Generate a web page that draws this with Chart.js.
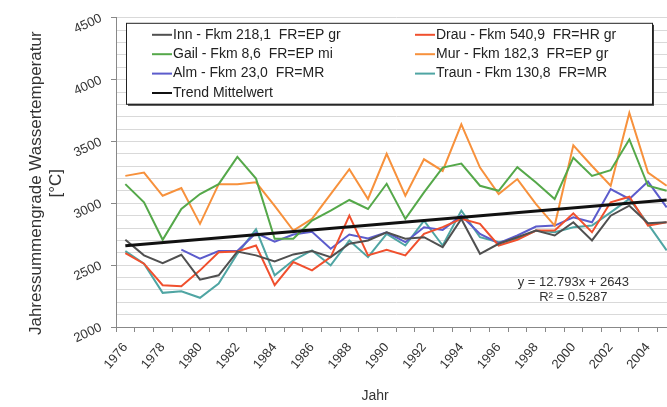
<!DOCTYPE html>
<html>
<head>
<meta charset="utf-8">
<script src="https://cdn.jsdelivr.net/npm/chart.js@4.4.1/dist/chart.umd.min.js"></script>
<style>
  html, body { margin: 0; padding: 0; background: #fff; overflow: hidden; }
  #wrap { width: 667px; height: 407px; overflow: hidden; }
</style>
</head>
<body>
<div id="wrap"><canvas id="chart" width="690" height="407"></canvas></div>
<script>
// Years on the x axis (1976 - 2005)
const years = [1976, 1977, 1978, 1979, 1980, 1981, 1982, 1983, 1984, 1985,
  1986, 1987, 1988, 1989, 1990, 1991, 1992, 1993, 1994, 1995,
  1996, 1997, 1998, 1999, 2000, 2001, 2002, 2003, 2004, 2005];

// Jahressummengrade per river station
const inn = [2705, 2579, 2517, 2584, 2383, 2418, 2610, 2579, 2530, 2587,
  2614, 2565, 2673, 2700, 2766, 2713, 2726, 2646, 2874, 2592,
  2673, 2726, 2780, 2740, 2847, 2700, 2900, 2981, 2839, 2847];
const drau = [2598, 2512, 2338, 2330, 2458, 2605, 2610, 2659, 2338, 2525,
  2458, 2565, 2900, 2579, 2625, 2579, 2753, 2807, 2874, 2834,
  2659, 2705, 2780, 2780, 2919, 2766, 3008, 3053, 2820, 2847];
const gail = [3155, 3008, 2705, 2954, 3075, 3155, 3375, 3200, 2713, 2713,
  2860, 2941, 3027, 2954, 3158, 2874, 3088, 3289, 3321, 3142,
  3101, 3292, 3168, 3035, 3369, 3222, 3268, 3517, 3142, 3101];
const mur = [3222, 3249, 3061, 3123, 2834, 3155, 3155, 3170, 2980, 2780,
  2874, 3075, 3276, 3035, 3400, 3061, 3356, 3262, 3638, 3289,
  3075, 3196, 2994, 2820, 3469, 3302, 3142, 3731, 3249, 3142];
const alm = [null, null, null, 2625, 2552, 2614, 2614, 2760, 2690, 2748,
  2770, 2633, 2748, 2715, 2766, 2686, 2807, 2785, 2900, 2753,
  2678, 2740, 2812, 2820, 2887, 2847, 3115, 3035, 3176, 2967];
const traun = [2614, 2512, 2276, 2289, 2236, 2351, 2592, 2790, 2418, 2539,
  2619, 2498, 2700, 2565, 2753, 2659, 2860, 2659, 2941, 2726,
  2686, 2713, 2780, 2766, 2807, 2820, 2927, 3035, 2834, 2619];
// trend line endpoints (y = 12.793x + 2643)
const trend = [2656, null, null, null, null, null, null, null, null, null,
  null, null, null, null, null, null, null, null, null, null,
  null, null, null, null, null, null, null, null, null, 3027];

const yTicks = [2000, 2500, 3000, 3500, 4000, 4500];
const equation = ['y = 12.793x + 2643', 'R² = 0.5287'];

Chart.defaults.font.family = '"Liberation Sans", Arial, sans-serif';
Chart.defaults.color = '#333';

function series(label, data, color, width) {
  return {
    label: label,
    data: data,
    borderColor: color,
    backgroundColor: color,
    borderWidth: width || 2,
    pointRadius: 0,
    tension: 0,
    fill: false
  };
}

// legend in a framed box, two columns, inside the plot
const boxLegend = {
  id: 'boxLegend',
  afterDatasetsDraw(chart) {
    const { ctx, chartArea } = chart;
    const x0 = chartArea.left + 10, y0 = chartArea.top + 5, w = 526, h = 81;
    ctx.save();
    ctx.fillStyle = '#3a3a3a';
    ctx.fillRect(x0 + 2, y0 + 2, w, h);
    ctx.fillStyle = '#fff';
    ctx.fillRect(x0, y0, w, h);
    ctx.strokeStyle = '#222';
    ctx.lineWidth = 1;
    ctx.strokeRect(x0 + 0.5, y0 + 0.5, w, h);
    ctx.font = '14px "Liberation Sans", Arial, sans-serif';
    ctx.textBaseline = 'middle';
    ctx.textAlign = 'left';
    chart.data.datasets.forEach((ds, i) => {
      const col = i % 2, row = Math.floor(i / 2);
      const lx = x0 + (col ? 289 : 26);
      const ly = y0 + 12 + row * 19.4;
      ctx.strokeStyle = ds.borderColor;
      ctx.lineWidth = 2;
      ctx.beginPath();
      ctx.moveTo(lx, ly);
      ctx.lineTo(lx + 20, ly);
      ctx.stroke();
      ctx.fillStyle = '#222';
      ctx.fillText(ds.label, lx + 21, ly);
    });
    ctx.restore();
  }
};

// regression equation text
const trendLabel = {
  id: 'trendLabel',
  afterDatasetsDraw(chart) {
    const { ctx, scales } = chart;
    const cx = scales.x.getPixelForValue(years.indexOf(2000));
    ctx.save();
    ctx.font = '13px "Liberation Sans", Arial, sans-serif';
    ctx.fillStyle = '#333';
    ctx.textAlign = 'center';
    ctx.textBaseline = 'middle';
    ctx.fillText(equation[0], cx, scales.y.getPixelForValue(2362));
    ctx.fillText(equation[1], cx, scales.y.getPixelForValue(2242));
    ctx.restore();
  }
};

const trendSet = series('Trend Mittelwert', trend, '#111', 3);
trendSet.spanGaps = true;
trendSet.order = -1;

new Chart(document.getElementById('chart'), {
  type: 'line',
  data: {
    labels: years.map(String),
    datasets: [
      series('Inn - Fkm 218,1  FR=EP gr', inn, '#505050'),
      series('Drau - Fkm 540,9  FR=HR gr', drau, '#f0502e'),
      series('Gail - Fkm 8,6  FR=EP mi', gail, '#55a84a'),
      series('Mur - Fkm 182,3  FR=EP gr', mur, '#f7913c'),
      series('Alm - Fkm 23,0  FR=MR', alm, '#5c5ccc'),
      series('Traun - Fkm 130,8  FR=MR', traun, '#4fa5a3'),
      trendSet
    ]
  },
  options: {
    responsive: false,
    animation: false,
    layout: { padding: { left: 20, top: 16, right: 14, bottom: 0 } },
    plugins: {
      legend: { display: false },
      tooltip: { enabled: false }
    },
    scales: {
      x: {
        offset: true,
        afterFit(scale) { scale.height = 80; },
        border: { color: '#888', width: 1 },
        grid: { offset: true, drawOnChartArea: false, tickLength: 5, color: '#888' },
        ticks: {
          autoSkip: false,
          minRotation: 50,
          maxRotation: 50,
          padding: 8,
          font: { size: 13 },
          callback: (v, i) => (years[i] % 2 === 0 ? String(years[i]) : '')
        },
        // em spaces nudge the title left, as in the original
        title: { display: true, text: 'Jahr\u2003\u2003\u2003', font: { size: 14 }, padding: { top: 0, bottom: 2 } }
      },
      y: {
        min: 2000,
        max: 4500,
        afterFit(scale) { scale.width = 96; },
        border: { color: '#888', width: 1 },
        grid: {
          color: '#d9d9d9',
          tickLength: 5,
          tickColor: c => (c.tick && yTicks.includes(c.tick.value) ? '#888' : 'rgba(0,0,0,0)')
        },
        ticks: {
          stepSize: 100,
          autoSkip: false,
          minRotation: 25,
          maxRotation: 25,
          padding: 10,
          font: { size: 13 },
          callback: v => (yTicks.includes(v) ? String(v) : '')
        },
        title: {
          display: true,
          text: ['Jahressummengrade Wassertemperatur\u2003 ', '[°C]\u2003 '],
          font: { size: 17 },
          padding: { top: 6, bottom: 0 }
        }
      }
    }
  },
  plugins: [boxLegend, trendLabel]
});
</script>
</body>
</html>
